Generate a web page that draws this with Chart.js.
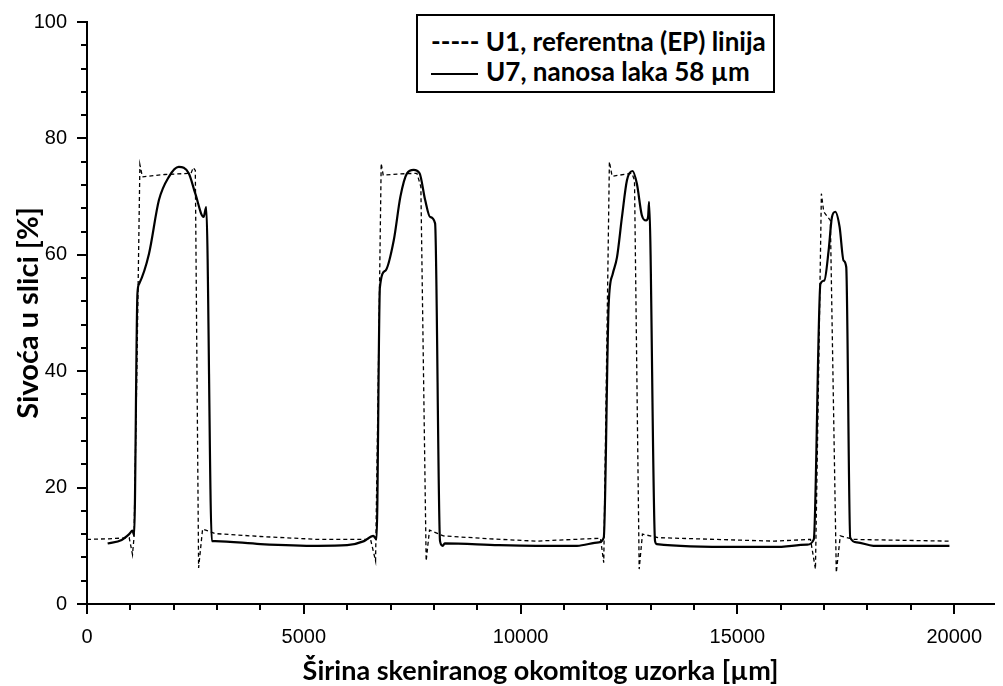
<!DOCTYPE html>
<html>
<head>
<meta charset="utf-8">
<script src="https://cdn.jsdelivr.net/npm/chart.js@4.4.1/dist/chart.umd.min.js"></script>
<style>
  html, body { margin: 0; padding: 0; background: #fff; }
  #wrap { position: relative; width: 1003px; height: 686px; }
  #legend {
    position: absolute; left: 416px; top: 14px; width: 355px; height: 75px;
    border: 2px solid #000; background: #fff;
    font-family: Lato, "Open Sans", sans-serif; font-weight: bold; font-size: 26px; color: #000;
  }
  #legend div { position: absolute; left: 13px; white-space: nowrap; line-height: 30px; }
  #legend .l1 { top: 10px; }
  #legend .l2 { top: 40px; }
  #legend .solid { display: inline-block; width: 47px; height: 0; border-top: 2px solid #000; vertical-align: middle; margin-right: 8px; }
</style>
</head>
<body>
<div id="wrap">
  <canvas id="chart" width="1003" height="686"></canvas>
  <div id="legend">
    <div class="l1">----- U1, referentna (EP) linija</div>
    <div class="l2"><span class="solid"></span>U7, nanosa laka 58 µm</div>
  </div>
</div>
<script>
// U1 - referentna (EP) linija, dashed
const u1X = [0, 500, 973, 1049, 1085, 1150, 1220, 1277, 1800, 2400, 2450, 2498, 2574, 2666, 2955, 4000, 5320,
  6540, 6655, 6720, 6785, 6831, 7200, 7609, 7700, 7822, 7899, 8219, 9300, 10355,
  11842, 11918, 11980, 12048, 12110, 12567, 12627, 12735, 12810, 13176, 14500, 15846,
  16686, 16800, 16870, 16937, 16991, 17144, 17281, 17373, 17678, 19890];
const u1Y = [11.1, 11.2, 11.4, 8.5, 11.5, 40, 75.5, 73.4, 73.8, 74.0, 75.0, 74.5, 6.2, 12.9, 12.1, 11.6, 11.1,
  11.1, 7.4, 40, 75.7, 73.7, 73.9, 74.0, 71.7, 7.4, 12.7, 11.7, 11.2, 10.8,
  11.3, 7.1, 40, 76.0, 73.5, 74.0, 72.8, 6.0, 12.0, 11.4, 11.1, 10.8,
  11.1, 6.0, 38, 70.5, 67.4, 65.9, 5.4, 11.7, 11.1, 10.8];

// U7 - nanosa laka 58 µm, solid
const u7X = [476, 800, 973, 1049, 1087, 1163, 1201, 1430, 1659, 1888, 2117, 2346, 2498, 2689, 2750, 2879, 2955,
  4000, 5320, 6000, 6388, 6602, 6678, 6755, 6884, 7075, 7228, 7380, 7533, 7670, 7799, 7913, 8028, 8142, 8204, 8250,
  9500, 10355, 11300, 11803, 11918, 12032, 12124, 12224, 12338, 12453, 12581, 12682, 12796, 12895, 12940, 12963,
  13101, 13139, 15000, 15846, 16609, 16762, 16915, 17006, 17105, 17181, 17258, 17357, 17449, 17510, 17602, 17754,
  18135, 19890];
const u7Y = [10.4, 11.0, 12.0, 12.6, 11.8, 53.3, 55.0, 60.2, 69.4, 73.4, 75.1, 74.0, 70.5, 66.5, 68.2, 10.8, 10.8,
  10.3, 10.0, 10.1, 10.8, 11.7, 11.1, 54.4, 57.3, 62.5, 70.0, 74.0, 74.6, 74.0, 69.4, 66.5, 65.4, 10.8, 10.0, 10.4,
  10.1, 10.0, 10.0, 10.6, 11.4, 51.6, 56.7, 59.6, 66.5, 72.8, 74.4, 72.2, 66.8, 65.9, 66.5, 69.1,
  10.8, 10.3, 9.8, 9.8, 10.2, 11.1, 55.0, 55.6, 60.8, 66.5, 67.4, 64.8, 59.0, 57.9, 11.4, 10.6,
  10.0, 10.0];

const xMajor = [0, 5000, 10000, 15000, 20000];
const yMajor = [0, 20, 40, 60, 80, 100];

const toPts = (xs, ys) => xs.map((x, i) => ({ x: x, y: ys[i] }));

// minor + major tick marks, drawn outside the plot like the original
const tickMarks = {
  id: 'tickMarks',
  afterDraw(chart) {
    const { ctx, chartArea, scales: { x, y } } = chart;
    ctx.save();
    ctx.strokeStyle = '#000';
    ctx.lineWidth = 2;
    ctx.beginPath();
    for (let v = 0; v <= 20000; v += 1000) {
      const px = Math.round(x.getPixelForValue(v));
      const len = xMajor.includes(v) ? 10 : 6;
      ctx.moveTo(px, chartArea.bottom);
      ctx.lineTo(px, chartArea.bottom + len);
    }
    for (let v = 0; v <= 100; v += 4) {
      const py = Math.round(y.getPixelForValue(v));
      const len = v % 20 === 0 ? 10 : 6;
      ctx.moveTo(chartArea.left, py);
      ctx.lineTo(chartArea.left - len, py);
    }
    ctx.stroke();
    ctx.restore();
  }
};

new Chart(document.getElementById('chart'), {
  type: 'line',
  data: {
    datasets: [
      {
        label: 'U1, referentna (EP) linija',
        data: toPts(u1X, u1Y),
        borderColor: '#000',
        borderWidth: 1.3,
        borderDash: [4, 3],
        pointRadius: 0,
        tension: 0
      },
      {
        label: 'U7, nanosa laka 58 µm',
        data: toPts(u7X, u7Y),
        borderColor: '#000',
        borderWidth: 2.2,
        pointRadius: 0,
        cubicInterpolationMode: 'monotone'
      }
    ]
  },
  options: {
    responsive: false,
    animation: false,
    layout: { padding: { top: 22, right: 0, left: 0, bottom: 0 } },
    plugins: { legend: { display: false }, tooltip: { enabled: false } },
    scales: {
      x: {
        type: 'linear',
        min: 0,
        max: 20920,
        afterBuildTicks: s => { s.ticks = xMajor.map(v => ({ value: v })); },
        afterFit: s => { s.height = 82; },
        grid: { display: false, drawTicks: false },
        border: { display: true, color: '#000', width: 2 },
        ticks: {
          padding: 21,
          color: '#000',
          font: { family: '"Liberation Sans", Arial, sans-serif', size: 20 },
          callback: v => String(v)
        },
        title: {
          display: true,
          text: 'Širina skeniranog okomitog uzorka [µm]',
          color: '#000',
          font: { family: 'Lato, "Open Sans", sans-serif', size: 27, weight: 'bold', lineHeight: 1.0 },
          padding: { top: 0, bottom: 1 }
        }
      },
      y: {
        min: 0,
        max: 100,
        afterBuildTicks: s => { s.ticks = yMajor.map(v => ({ value: v })); },
        afterFit: s => { s.width = 87; s.paddingTop = 0; s.paddingBottom = 0; },
        grid: { display: false, drawTicks: false },
        border: { display: true, color: '#000', width: 2 },
        ticks: {
          padding: 20,
          color: '#000',
          font: { family: '"Liberation Sans", Arial, sans-serif', size: 20 },
          callback: v => String(v)
        },
        title: {
          display: true,
          text: 'Sivoća u slici [%]',
          color: '#000',
          font: { family: 'Lato, "Open Sans", sans-serif', size: 29, weight: 'bold' },
          padding: { top: 11, bottom: 0 }
        }
      }
    }
  },
  plugins: [tickMarks]
});
</script>
</body>
</html>
